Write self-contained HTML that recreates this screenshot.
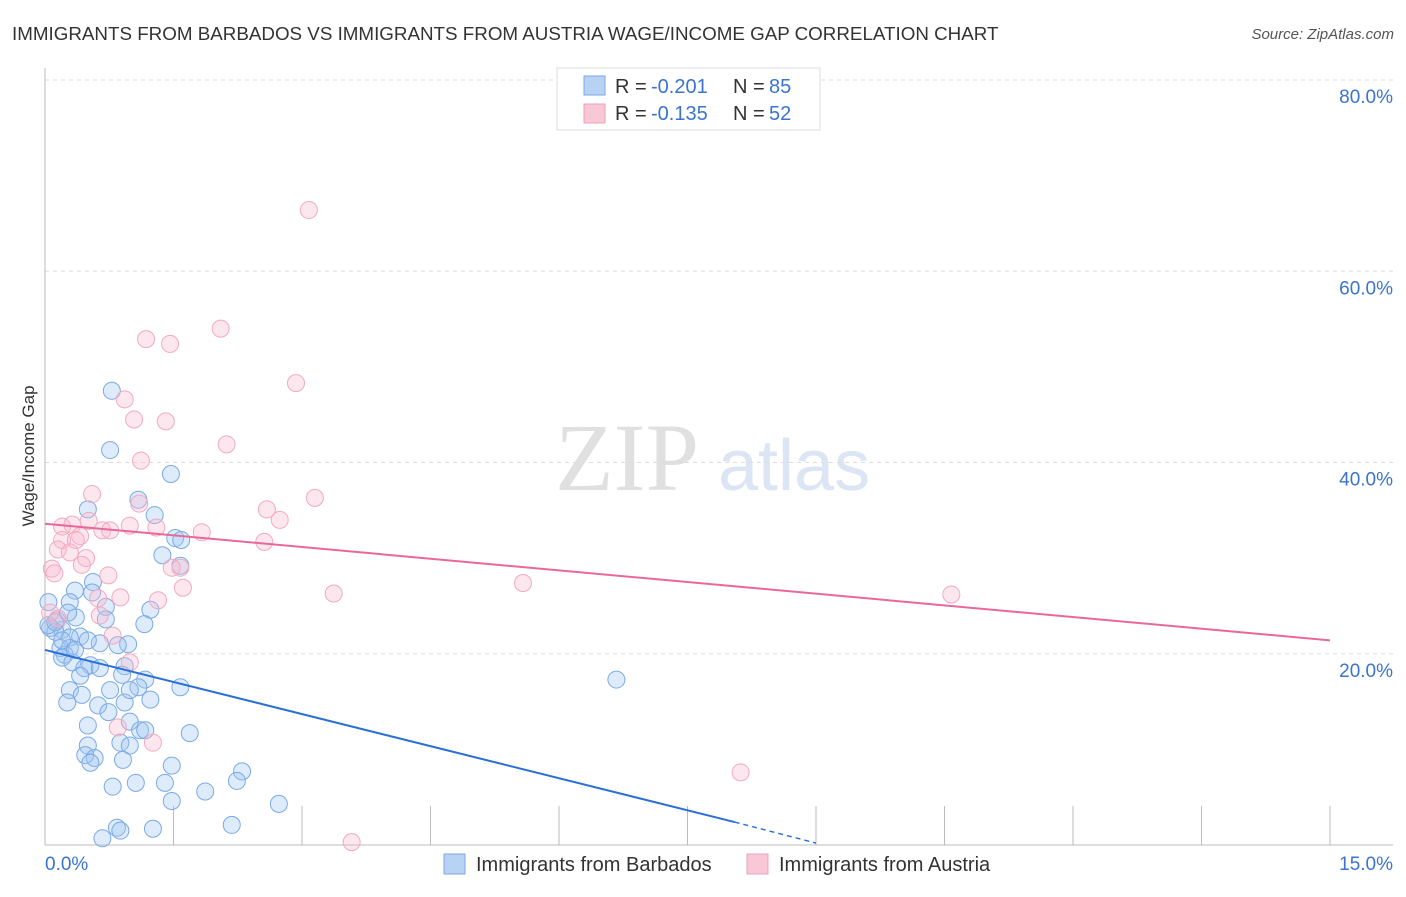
<!DOCTYPE html>
<html><head><meta charset="utf-8"><style>
body{margin:0;background:#fff;font-family:"Liberation Sans",sans-serif}
</style></head><body>
<svg id="chart" width="1406" height="892" xmlns="http://www.w3.org/2000/svg" font-family="Liberation Sans, sans-serif">
<text x="12" y="40" font-size="18.8" fill="#333">IMMIGRANTS FROM BARBADOS VS IMMIGRANTS FROM AUSTRIA WAGE/INCOME GAP CORRELATION CHART</text>
<text x="1394" y="39" font-size="15" fill="#555" text-anchor="end" font-style="italic">Source: ZipAtlas.com</text>
<g>
<text x="555" y="490" font-size="96" font-family="Liberation Serif, serif" fill="#e0e0e0">ZIP</text>
<text x="718" y="490" font-size="72" fill="#dbe5f4">atlas</text>
</g>
<g id="grid"></g>
<g id="axes"></g>
<g id="pts"></g>
<g id="trends"></g>
<text transform="translate(34,456) rotate(-90)" font-size="17" fill="#333" text-anchor="middle">Wage/Income Gap</text>
<g>
<rect x="557" y="68" width="263" height="62" fill="#fff" stroke="#ddd"/>
<rect x="584" y="76" width="21" height="19" fill="#b8d2f4" stroke="#7aaae6"/>
<rect x="584" y="104" width="21" height="19" fill="#f9c8d6" stroke="#f0a0b8"/>
<text x="615" y="93" font-size="20" fill="#333">R =</text>
<text x="651" y="93" font-size="20" fill="#3a74d0">-0.201</text>
<text x="733" y="93" font-size="20" fill="#333">N =</text>
<text x="769" y="93" font-size="20" fill="#3a74d0">85</text>
<text x="615" y="120" font-size="20" fill="#333">R =</text>
<text x="651" y="120" font-size="20" fill="#3a74d0">-0.135</text>
<text x="733" y="120" font-size="20" fill="#333">N =</text>
<text x="769" y="120" font-size="20" fill="#3a74d0">52</text>
</g>
<g>
<rect x="444" y="854" width="21" height="20" fill="#b8d2f4" stroke="#7aaae6"/>
<text x="476" y="871" font-size="20" fill="#333">Immigrants from Barbados</text>
<rect x="747" y="854" width="21" height="20" fill="#f9c8d6" stroke="#f0a0b8"/>
<text x="779" y="871" font-size="20" fill="#333">Immigrants from Austria</text>
</g>
</svg>
<script>
const yTicks=[20,40,60,80];
const yTickLabels=["20.0%","40.0%","60.0%","80.0%"];
const xTicks=[0,1.5,3,4.5,6,7.5,9,10.5,12,13.5,15];
const xEndLabels=["0.0%","15.0%"];
const blueX=[0.78,0.76,1.47,1.09,0.50,1.28,1.52,1.59,1.37,1.58,0.56,0.35,0.55,0.04,0.29,0.71,1.23,0.36,0.71,0.14,1.16,0.06,0.20,0.12,0.41,0.29,0.64,0.97,0.85,0.18,0.29,0.23,0.20,0.32,0.53,0.46,0.93,0.90,1.17,0.41,1.58,1.09,0.29,0.43,0.26,0.93,0.62,0.74,0.50,0.99,1.11,1.69,0.50,0.88,0.99,0.47,0.58,0.53,0.91,1.48,2.30,2.24,1.40,1.06,0.79,1.87,1.48,2.73,2.18,1.26,0.84,0.88,0.67,6.67,0.04,0.12,0.20,0.35,0.64,0.76,1.23,0.99,1.17,0.50,0.27];
const blueY=[47.5,41.3,38.8,36.1,35.1,34.5,32.1,31.9,30.3,29.2,27.5,26.6,26.4,25.4,25.4,24.9,24.6,23.8,23.6,23.5,23.1,22.7,22.5,22.3,21.8,21.7,21.1,21.0,20.9,20.6,20.6,19.9,19.6,19.1,18.8,18.5,18.7,17.8,17.3,17.7,16.5,16.5,16.2,15.7,14.9,14.9,14.6,13.9,12.5,12.9,12.0,11.7,10.4,10.7,10.4,9.4,9.1,8.6,8.9,8.3,7.7,6.7,6.5,6.5,6.1,5.6,4.6,4.3,2.1,1.7,1.8,1.5,0.7,17.3,23.0,23.3,21.4,20.4,18.5,16.2,15.2,16.2,12.0,21.4,24.3];
const pinkX=[3.08,2.05,1.18,1.46,2.93,0.93,1.04,1.41,2.12,1.12,0.55,3.15,1.10,0.51,2.59,2.74,0.20,0.32,0.99,1.30,0.67,0.76,1.83,0.41,0.20,0.36,2.56,0.15,0.29,0.48,0.43,0.08,0.11,1.58,1.48,0.74,5.58,1.61,3.37,10.58,0.62,0.88,1.32,0.64,0.15,0.79,0.99,0.85,1.26,8.12,3.58,0.06];
const pinkY=[66.4,54.0,52.9,52.4,48.3,46.6,44.5,44.3,41.9,40.2,36.7,36.3,35.7,33.9,35.1,34.0,33.3,33.5,33.4,33.2,32.9,32.9,32.7,32.3,31.9,31.9,31.7,30.9,30.6,30.0,29.3,28.9,28.4,29.0,29.0,28.2,27.4,26.9,26.3,26.2,25.8,25.9,25.6,24.0,23.7,21.9,19.1,12.3,10.7,7.6,0.3,24.3];
const blueTrend=[[0,20.4],[8.05,2.4]];
const blueTrendDash=[[8.05,2.4],[9.0,0.2]];
const pinkTrend=[[0,33.6],[15,21.4]];

const NS="http://www.w3.org/2000/svg";
const X0=45,X1=1330,Y0=845,Y80=80;
const xs=v=>X0+(X1-X0)*v/15;
const ys=v=>Y0-(Y0-Y80)*v/80;
function mk(tag,attrs,parent){const e=document.createElementNS(NS,tag);for(const k in attrs)e.setAttribute(k,attrs[k]);parent.appendChild(e);return e;}
const grid=document.getElementById('grid'),axes=document.getElementById('axes');
yTicks.forEach((t,i)=>{
  const l=mk('line',{x1:X0,x2:1393,y1:ys(t),y2:ys(t),stroke:'#ddd','stroke-dasharray':'4,4'},grid);
  
  
  const tx=mk('text',{x:1393,y:ys(t)+23,'font-size':19,fill:'#3a74d0','text-anchor':'end'},axes);
  tx.textContent=yTickLabels[i];
  
  
});
mk('line',{x1:X0,x2:X0,y1:68,y2:Y0,stroke:'#bbb'},axes);
mk('line',{x1:X0,x2:1393,y1:Y0,y2:Y0,stroke:'#bbb'},axes);
xTicks.forEach(t=>{
  const l=mk('line',{x1:xs(t),x2:xs(t),y1:806,y2:Y0,stroke:'#bbb'},axes);
  
  
});
const xl0=mk('text',{x:45,y:870,'font-size':19,fill:'#3a74d0'},axes);xl0.textContent=xEndLabels[0];


const xl1=mk('text',{x:1393,y:870,'font-size':19,fill:'#3a74d0','text-anchor':'end'},axes);xl1.textContent=xEndLabels[1];


const pts=document.getElementById('pts');
blueX.forEach((x,i)=>{
  const c=mk('circle',{cx:xs(x),cy:ys(blueY[i]),r:8.5,fill:'rgba(160,198,242,0.35)',stroke:'#7aaae6','stroke-width':1},pts);
  
  
});
pinkX.forEach((x,i)=>{
  const c=mk('circle',{cx:xs(x),cy:ys(pinkY[i]),r:8.5,fill:'rgba(248,185,205,0.35)',stroke:'#f2aac0','stroke-width':1},pts);
  
  
});
const tr=document.getElementById('trends');
const bl=mk('line',{x1:xs(blueTrend[0][0]),y1:ys(blueTrend[0][1]),x2:xs(blueTrend[1][0]),y2:ys(blueTrend[1][1]),stroke:'#2a6fd6','stroke-width':2},tr);


const bd=mk('line',{x1:xs(blueTrendDash[0][0]),y1:ys(blueTrendDash[0][1]),x2:xs(blueTrendDash[1][0]),y2:ys(blueTrendDash[1][1]),stroke:'#2a6fd6','stroke-width':1.5,'stroke-dasharray':'5,4'},tr);


const pl=mk('line',{x1:xs(pinkTrend[0][0]),y1:ys(pinkTrend[0][1]),x2:xs(pinkTrend[1][0]),y2:ys(pinkTrend[1][1]),stroke:'#e8689a','stroke-width':2},tr);


</script>
</body></html>
